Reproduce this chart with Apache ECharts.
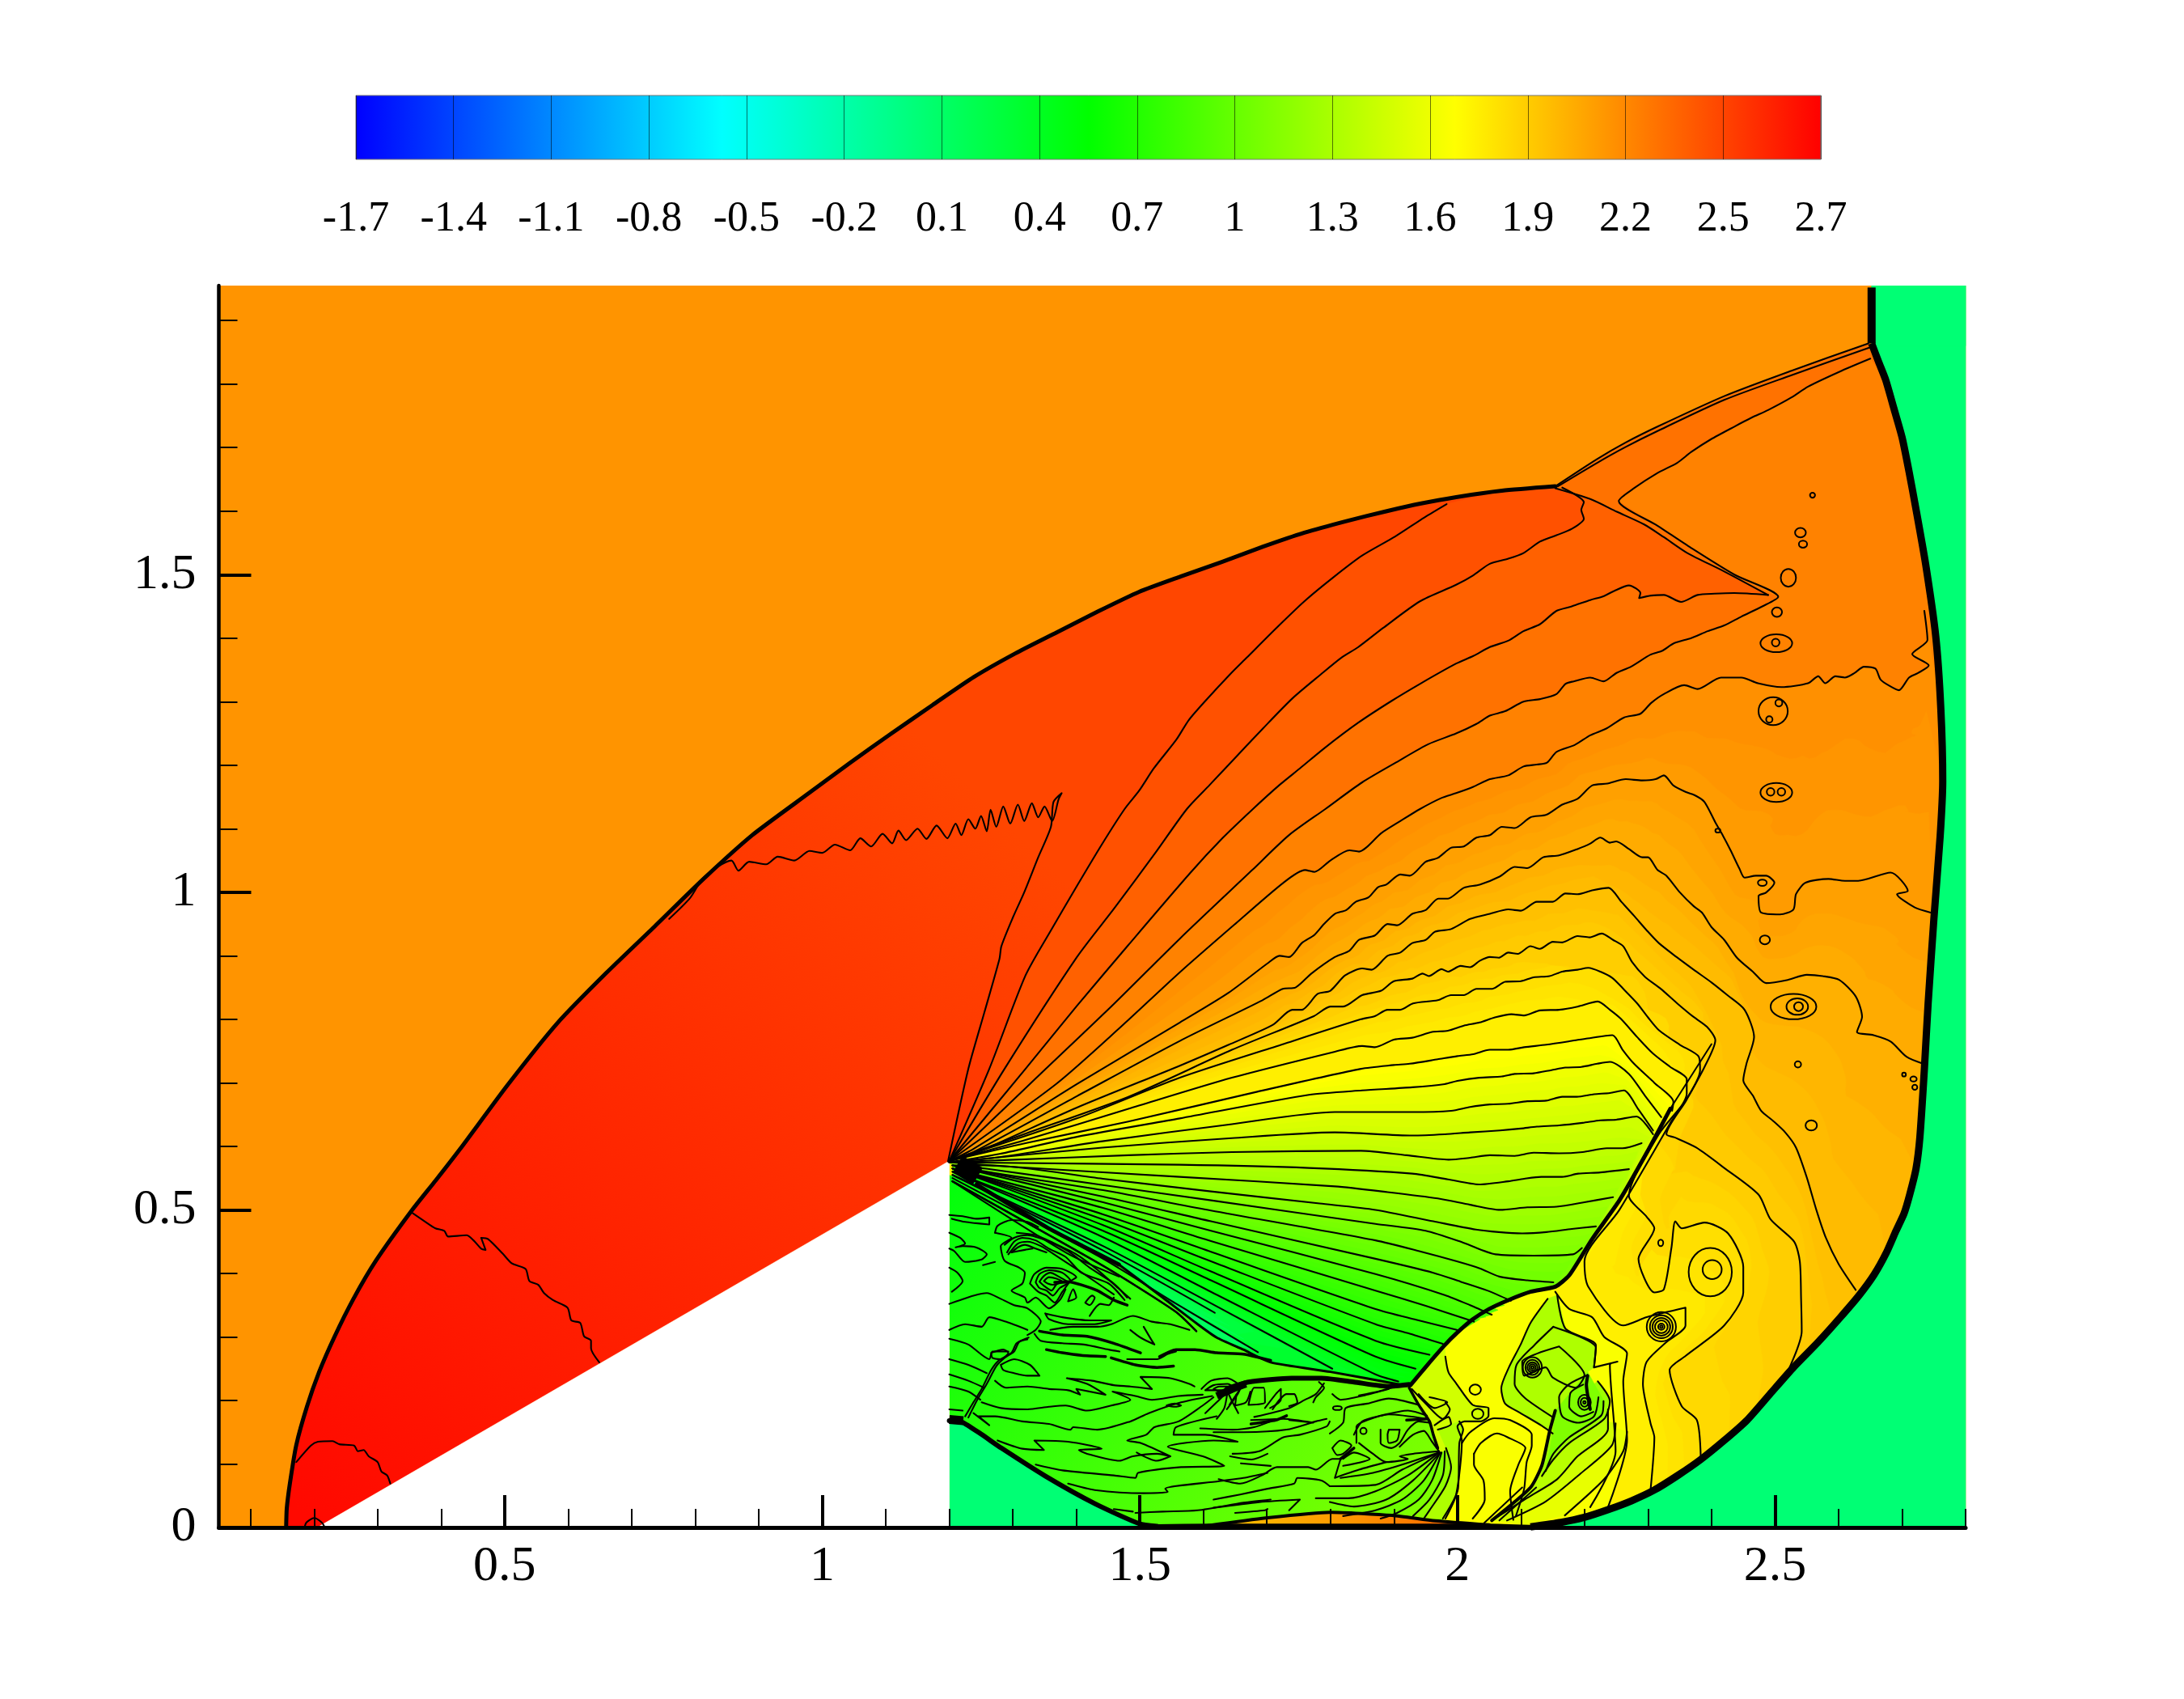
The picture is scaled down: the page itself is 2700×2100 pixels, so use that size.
<!DOCTYPE html>
<html><head><meta charset="utf-8">
<style>html,body{margin:0;background:#fff}#c{width:2700px;height:2100px}</style>
<script src="https://cdn.jsdelivr.net/npm/echarts@6/dist/echarts.min.js"></script>
</head><body><div id="c"></div>
<script>
// Colour ramp and legend
const rampStops = [[0,'#0000ff'],[0.25,'#00ffff'],[0.5,'#00ff00'],[0.75,'#ffff00'],[1,'#ff0000']];
const legendTicks = ['-1.7','-1.4','-1.1','-0.8','-0.5','-0.2','0.1','0.4','0.7','1','1.3','1.6','1.9','2.2','2.5','2.7'];
const levelRange = [-1.7, 2.7];

// Axis ticks
const xMajor = [0.5,1,1.5,2,2.5];
const xMinor = [0.1,0.2,0.3,0.4,0.6,0.7,0.8,0.9,1.1,1.2,1.3,1.4,1.6,1.7,1.8,1.9,2.1,2.2,2.3,2.4,2.6,2.7,2.8];
const yMajor = [0,0.5,1,1.5];
const yMinor = [0.1,0.2,0.3,0.4,0.6,0.7,0.8,0.9,1.1,1.2,1.3,1.4,1.6,1.7,1.8,1.9];

// Field levels of the uniform regions
const upstreamLevel = 2.06, downstreamLevel = 0.0;

// Strong shocks
const bowShock = [[0.156,0],[0.157,0.03],[0.162,0.07],[0.172,0.13],[0.189,0.191],[0.208,0.245],[0.232,0.300],[0.262,0.360],[0.298,0.421],[0.353,0.498],[0.392,0.547],[0.430,0.596],[0.505,0.697],[0.583,0.794],[0.66,0.873],[0.737,0.947],[0.812,1.020],[0.890,1.090],[0.979,1.156],[1.044,1.204],[1.109,1.250],[1.174,1.295],[1.239,1.339],[1.304,1.376],[1.369,1.409],[1.434,1.442],[1.499,1.473],[1.564,1.497],[1.629,1.520],[1.694,1.544],[1.759,1.566],[1.824,1.584],[1.889,1.600],[1.943,1.612],[1.998,1.622],[2.07,1.632],[2.154,1.639]];
const obliqueOuter = [[2.154,1.639],[2.220,1.682],[2.265,1.708],[2.315,1.733],[2.420,1.781],[2.526,1.821],[2.647,1.864]];
const obliqueInner = [[2.158,1.639],[2.220,1.676],[2.265,1.701],[2.315,1.726],[2.420,1.775],[2.526,1.814],[2.650,1.858]];
const stemTop = [[2.652,1.952],[2.652,1.864]];
const machStem = [[2.652,1.864],[2.663,1.835],[2.674,1.807],[2.687,1.762],[2.700,1.716],[2.711,1.662],[2.721,1.608],[2.737,1.517],[2.753,1.403],[2.761,1.289],[2.764,1.175],[2.760,1.089],[2.750,0.957],[2.741,0.825],[2.735,0.720],[2.728,0.614],[2.722,0.565],[2.712,0.524],[2.703,0.494],[2.690,0.466],[2.675,0.432],[2.656,0.398],[2.632,0.365],[2.603,0.331],[2.567,0.291],[2.529,0.252],[2.492,0.210],[2.456,0.169],[2.420,0.137],[2.383,0.107],[2.347,0.082],[2.310,0.059],[2.274,0.042],[2.237,0.028],[2.200,0.016],[2.163,0.008],[2.115,0.001]];
const wallFoot = [[2.115,0.001],[2.05,0.003],[1.965,0.003],[1.80,0.003],[1.607,0.003],[1.527,0.002]];
const reflectedShock = [[1.2,0.168],[1.22,0.166],[1.25,0.147],[1.282,0.125],[1.351,0.081],[1.430,0.037],[1.499,0.006],[1.527,0.002]];
const curvedShock = [[2.40,0.761],[2.335,0.659],[2.298,0.590],[2.255,0.515],[2.212,0.454],[2.176,0.397],[2.154,0.379],[2.115,0.371],[2.078,0.357],[2.050,0.344],[2.023,0.327],[2.000,0.307],[1.980,0.287],[1.952,0.255],[1.926,0.224]];
const wakeShock = [[1.641,0.220],[1.671,0.229],[1.739,0.235],[1.786,0.235],[1.837,0.229],[1.892,0.222],[1.924,0.225]];
const innerStem = [[1.924,0.220],[1.939,0.193],[1.956,0.167],[1.962,0.146],[1.969,0.125]];
const thinShockA = [[2.154,0.184],[2.145,0.151],[2.133,0.098],[2.115,0.063],[2.054,0.011]];
const thinShockB = [[2.124,0.063],[2.066,0.011]];
const thinShockC = [[2.102,0.063],[2.042,0.007]];
const upperStem = [[2.205,0.239],[2.203,0.225],[2.209,0.186]];
const crackA = [[1.225,0.175],[1.238,0.197],[1.251,0.218],[1.266,0.248],[1.278,0.263],[1.298,0.275],[1.306,0.290],[1.325,0.299]];
const crackB = [[1.230,0.173],[1.244,0.201],[1.259,0.226],[1.274,0.254],[1.287,0.267],[1.302,0.277],[1.310,0.292],[1.323,0.296]];
const lensTop = [[1.607,0.003],[1.698,0.015],[1.800,0.024],[1.897,0.019],[1.965,0.0105],[2.05,0.004]];
const cornerKnot = [[1.2,0.170],[1.222,0.168]];
const apexKnot = [[1.213,0.572],[1.245,0.553]];
const vortexKnot = [[1.621,0.207],[1.646,0.218],[1.667,0.226]];

// Slip surfaces and filaments
const slipLower = [[1.243,0.540],[1.300,0.505],[1.356,0.471],[1.410,0.443],[1.467,0.414]];
const slipMid = [[1.467,0.414],[1.536,0.362],[1.591,0.320],[1.621,0.299],[1.663,0.280],[1.706,0.260],[1.800,0.245],[1.920,0.223]];
const filaments = [
  [[1.366,0.386],[1.387,0.387],[1.408,0.382],[1.433,0.373],[1.459,0.358],[1.480,0.350]],
  [[1.342,0.309],[1.378,0.303],[1.417,0.301],[1.459,0.290],[1.501,0.275]],
  [[1.353,0.280],[1.378,0.275],[1.408,0.271],[1.446,0.269]],
  [[1.455,0.267],[1.493,0.256],[1.527,0.252],[1.553,0.254]],
  [[1.531,0.269],[1.557,0.280],[1.587,0.280],[1.621,0.275],[1.663,0.273],[1.706,0.263]],
  [[1.675,0.163],[1.714,0.169],[1.731,0.176]],
  [[1.920,0.169],[1.952,0.171]],
  [[1.816,0.108],[1.837,0.125]]
];

// Contours of the expansion fan, with their continuation behind the shocks
const fan01 = [[1.198,0.576],[1.230,0.722],[1.255,0.810],[1.279,0.895],[1.282,0.915],[1.300,0.960],[1.318,1.000],[1.340,1.055],[1.360,1.103],[1.364,1.142],[1.377,1.156],[1.372,1.146],[1.362,1.112],[1.350,1.135],[1.340,1.118],[1.330,1.140],[1.318,1.112],[1.308,1.138],[1.296,1.108],[1.285,1.135],[1.274,1.103],[1.265,1.130],[1.259,1.096],[1.250,1.120],[1.241,1.100],[1.230,1.115],[1.219,1.090],[1.210,1.108],[1.197,1.085],[1.180,1.105],[1.164,1.084],[1.150,1.100],[1.132,1.082],[1.120,1.097],[1.110,1.077],[1.095,1.092],[1.077,1.072],[1.060,1.085],[1.044,1.066],[1.020,1.075],[1.0,1.062],[0.980,1.065],[0.956,1.050],[0.930,1.056],[0.912,1.044],[0.885,1.048],[0.868,1.034],[0.857,1.050],[0.814,1.024],[0.792,0.991],[0.759,0.958]];
const fan02 = [[1.2,0.577],[1.263,0.722],[1.320,0.869],[1.360,0.940],[1.401,1.010],[1.440,1.075],[1.476,1.131],[1.499,1.160],[1.522,1.195],[1.558,1.241],[1.577,1.271],[1.603,1.301],[1.642,1.343],[1.668,1.369],[1.714,1.415],[1.759,1.458],[1.805,1.496],[1.850,1.530],[1.902,1.560],[1.948,1.590],[1.983,1.611]];
const fan03 = [[1.2,0.577],[1.287,0.722],[1.401,0.898],[1.460,0.975],[1.523,1.060],[1.574,1.131],[1.610,1.169],[1.642,1.203],[1.694,1.258],[1.740,1.305],[1.785,1.343],[1.817,1.369],[1.844,1.386],[1.883,1.416],[1.941,1.458],[1.998,1.484],[2.025,1.499],[2.051,1.517],[2.080,1.525],[2.104,1.534],[2.130,1.552],[2.156,1.562],[2.180,1.572],[2.199,1.588],[2.195,1.602],[2.199,1.614],[2.165,1.637]];
const fan04 = [[1.2,0.577],[1.320,0.722],[1.400,0.820],[1.482,0.917],[1.579,1.030],[1.630,1.085],[1.678,1.131],[1.720,1.169],[1.752,1.195],[1.792,1.228],[1.844,1.267],[1.896,1.301],[1.941,1.328],[1.998,1.360],[2.025,1.372],[2.051,1.386],[2.080,1.396],[2.104,1.411],[2.130,1.422],[2.156,1.443],[2.180,1.450],[2.209,1.460],[2.230,1.466],[2.246,1.474],[2.270,1.483],[2.288,1.471],[2.286,1.463],[2.305,1.467],[2.325,1.468],[2.352,1.457],[2.378,1.468],[2.405,1.470],[2.436,1.471],[2.489,1.468]];
const fan05 = [[1.2,0.577],[1.352,0.722],[1.460,0.825],[1.563,0.927],[1.677,1.035],[1.735,1.090],[1.792,1.131],[1.850,1.173],[1.908,1.207],[1.954,1.233],[1.998,1.250],[2.030,1.265],[2.051,1.278],[2.075,1.285],[2.104,1.300],[2.130,1.304],[2.156,1.312],[2.170,1.328],[2.183,1.332],[2.209,1.338],[2.230,1.332],[2.250,1.345],[2.273,1.355],[2.304,1.374],[2.322,1.380],[2.341,1.392],[2.368,1.400],[2.394,1.411],[2.420,1.420],[2.447,1.434],[2.480,1.450],[2.505,1.465],[2.436,1.500],[2.368,1.542],[2.315,1.577],[2.254,1.616],[2.278,1.636],[2.315,1.660],[2.346,1.676],[2.368,1.693],[2.399,1.713],[2.436,1.733],[2.463,1.747],[2.489,1.759],[2.526,1.779],[2.552,1.796],[2.605,1.821],[2.650,1.840]];
const fan06 = [[1.2,0.577],[1.368,0.698],[1.470,0.788],[1.563,0.874],[1.650,0.950],[1.726,1.015],[1.76,1.035],[1.775,1.032],[1.80,1.05],[1.83,1.066],[1.845,1.064],[1.88,1.093],[1.91,1.112],[1.941,1.131],[1.974,1.148],[1.998,1.156],[2.025,1.166],[2.051,1.178],[2.080,1.184],[2.104,1.198],[2.125,1.201],[2.141,1.204],[2.156,1.221],[2.185,1.232],[2.209,1.247],[2.235,1.258],[2.262,1.275],[2.288,1.281],[2.305,1.298],[2.325,1.312],[2.357,1.326],[2.378,1.320],[2.415,1.338],[2.447,1.338],[2.473,1.329],[2.510,1.323],[2.552,1.329],[2.568,1.340],[2.579,1.329],[2.595,1.340],[2.610,1.338],[2.625,1.345],[2.640,1.355],[2.658,1.352],[2.666,1.335],[2.680,1.325],[2.695,1.318],[2.711,1.338],[2.725,1.345],[2.742,1.357],[2.716,1.375],[2.740,1.397],[2.735,1.443]];
const fan07 = [[1.2,0.577],[1.238,0.596],[1.401,0.698],[1.563,0.795],[1.640,0.842],[1.701,0.888],[1.72,0.90],[1.735,0.898],[1.755,0.92],[1.775,0.933],[1.79,0.95],[1.807,0.966],[1.825,0.972],[1.84,0.985],[1.86,0.992],[1.875,1.008],[1.888,1.012],[1.91,1.028],[1.925,1.026],[1.95,1.048],[1.969,1.054],[1.99,1.070],[2.01,1.072],[2.03,1.086],[2.051,1.09],[2.07,1.103],[2.09,1.101],[2.115,1.118],[2.14,1.122],[2.165,1.138],[2.189,1.147],[2.212,1.168],[2.236,1.171],[2.265,1.178],[2.291,1.176],[2.312,1.178],[2.325,1.184],[2.340,1.168],[2.359,1.158],[2.375,1.152],[2.389,1.142],[2.406,1.110],[2.418,1.089],[2.430,1.066],[2.444,1.037],[2.452,1.023],[2.470,1.026],[2.486,1.026],[2.499,1.015],[2.486,0.9996],[2.474,0.994],[2.478,0.968],[2.508,0.965],[2.529,0.973],[2.533,0.997],[2.548,1.015],[2.584,1.021],[2.610,1.018],[2.631,1.018],[2.682,1.031],[2.709,1.002],[2.692,0.997],[2.720,0.976],[2.745,0.968]];
const fan08 = [[1.2,0.577],[1.238,0.591],[1.401,0.679],[1.563,0.766],[1.693,0.830],[1.725,0.848],[1.745,0.850],[1.77,0.872],[1.807,0.898],[1.83,0.908],[1.845,0.925],[1.87,0.932],[1.89,0.950],[1.905,0.948],[1.929,0.966],[1.95,0.972],[1.97,0.990],[1.985,0.990],[2.010,1.007],[2.035,1.012],[2.067,1.025],[2.09,1.040],[2.11,1.038],[2.135,1.055],[2.16,1.058],[2.189,1.068],[2.208,1.076],[2.225,1.086],[2.24,1.078],[2.25,1.08],[2.27,1.068],[2.291,1.055],[2.30,1.055],[2.315,1.035],[2.329,1.026],[2.35,1.00],[2.372,0.978],[2.385,0.968],[2.40,0.945],[2.42,0.925],[2.44,0.897],[2.465,0.875],[2.486,0.857],[2.52,0.862],[2.550,0.870],[2.575,0.868],[2.601,0.862],[2.627,0.836],[2.637,0.804],[2.629,0.780],[2.655,0.775],[2.682,0.765],[2.707,0.741],[2.733,0.730]];
const fan09 = [[1.2,0.577],[1.238,0.588],[1.401,0.661],[1.563,0.727],[1.640,0.760],[1.709,0.791],[1.74,0.815],[1.755,0.815],[1.78,0.840],[1.80,0.845],[1.823,0.869],[1.85,0.880],[1.865,0.878],[1.89,0.900],[1.91,0.905],[1.929,0.920],[1.95,0.925],[1.965,0.938],[1.99,0.942],[2.02,0.958],[2.051,0.966],[2.08,0.973],[2.10,0.971],[2.125,0.985],[2.15,0.985],[2.170,0.998],[2.189,0.997],[2.212,1.003],[2.238,1.007],[2.258,0.985],[2.278,0.963],[2.298,0.940],[2.317,0.920],[2.345,0.898],[2.372,0.878],[2.40,0.858],[2.425,0.838],[2.452,0.815],[2.467,0.772],[2.455,0.730],[2.450,0.704],[2.465,0.680],[2.478,0.656],[2.497,0.640],[2.516,0.622],[2.533,0.598],[2.550,0.551],[2.565,0.500],[2.580,0.456],[2.600,0.415],[2.627,0.374]];
const fan10 = [[1.2,0.577],[1.320,0.620],[1.482,0.678],[1.645,0.752],[1.774,0.805],[1.80,0.820],[1.82,0.820],[1.85,0.838],[1.88,0.845],[1.90,0.860],[1.929,0.864],[1.945,0.872],[1.955,0.868],[1.975,0.879],[1.985,0.875],[2.005,0.884],[2.02,0.882],[2.035,0.892],[2.051,0.898],[2.065,0.897],[2.08,0.905],[2.095,0.903],[2.115,0.915],[2.13,0.911],[2.15,0.922],[2.165,0.921],[2.189,0.931],[2.208,0.929],[2.227,0.935],[2.245,0.925],[2.261,0.915],[2.275,0.890],[2.295,0.867],[2.320,0.848],[2.346,0.825],[2.370,0.805],[2.393,0.788],[2.406,0.767],[2.389,0.725],[2.360,0.672],[2.329,0.619],[2.342,0.614],[2.376,0.598],[2.420,0.566],[2.474,0.524],[2.493,0.485],[2.530,0.450],[2.539,0.419],[2.541,0.360],[2.542,0.309],[2.517,0.239]];
const fan11 = [[1.2,0.577],[1.401,0.644],[1.563,0.708],[1.726,0.761],[1.848,0.800],[1.87,0.805],[1.89,0.815],[1.91,0.815],[1.93,0.825],[1.969,0.830],[1.99,0.838],[2.01,0.838],[2.03,0.848],[2.055,0.848],[2.075,0.859],[2.10,0.860],[2.12,0.866],[2.145,0.868],[2.165,0.875],[2.189,0.878],[2.206,0.881],[2.225,0.875],[2.244,0.865],[2.262,0.847],[2.283,0.825],[2.300,0.803],[2.317,0.783],[2.350,0.760],[2.380,0.741],[2.382,0.720],[2.359,0.672],[2.317,0.619],[2.270,0.522],[2.298,0.489],[2.310,0.471],[2.285,0.423],[2.310,0.370],[2.325,0.375],[2.337,0.441],[2.343,0.482],[2.353,0.471],[2.389,0.480],[2.426,0.463],[2.450,0.410],[2.450,0.370],[2.420,0.318],[2.359,0.270],[2.334,0.248],[2.353,0.191],[2.377,0.169],[2.383,0.112]];
const fan12 = [[1.2,0.577],[1.320,0.610],[1.482,0.659],[1.645,0.708],[1.807,0.749],[1.85,0.758],[1.87,0.756],[1.90,0.768],[1.929,0.771],[1.96,0.780],[1.985,0.782],[2.01,0.790],[2.035,0.795],[2.059,0.803],[2.085,0.808],[2.105,0.806],[2.13,0.814],[2.16,0.815],[2.189,0.820],[2.221,0.828],[2.240,0.815],[2.257,0.801],[2.283,0.772],[2.308,0.746],[2.335,0.725],[2.361,0.706],[2.361,0.683],[2.334,0.635],[2.255,0.500],[2.200,0.419],[2.206,0.379],[2.261,0.318],[2.298,0.331],[2.359,0.346],[2.359,0.318],[2.328,0.291],[2.298,0.261],[2.292,0.226],[2.304,0.164],[2.310,0.142],[2.304,0.059]];
const fan13 = [[1.2,0.577],[1.320,0.605],[1.482,0.639],[1.685,0.686],[1.848,0.722],[1.90,0.728],[1.925,0.730],[1.969,0.737],[2.0,0.742],[2.025,0.745],[2.051,0.752],[2.08,0.752],[2.105,0.756],[2.14,0.760],[2.180,0.766],[2.205,0.770],[2.244,0.775],[2.260,0.752],[2.278,0.730],[2.310,0.700],[2.340,0.670],[2.338,0.656]];
const fan14 = [[1.2,0.575],[1.279,0.588],[1.401,0.615],[1.563,0.644],[1.766,0.681],[1.85,0.688],[1.929,0.693],[1.98,0.698],[2.0,0.703],[2.034,0.708],[2.07,0.710],[2.09,0.714],[2.12,0.715],[2.148,0.720],[2.17,0.724],[2.195,0.725],[2.220,0.730],[2.240,0.733],[2.270,0.714],[2.295,0.680],[2.321,0.646]];
const fan15 = [[1.2,0.575],[1.279,0.583],[1.441,0.608],[1.645,0.635],[1.807,0.654],[1.929,0.654],[1.99,0.656],[2.02,0.662],[2.051,0.666],[2.08,0.667],[2.11,0.671],[2.14,0.672],[2.165,0.678],[2.188,0.678],[2.215,0.682],[2.240,0.684],[2.262,0.688],[2.285,0.658],[2.308,0.625]];
const fan16 = [[1.2,0.575],[1.441,0.598],[1.645,0.613],[1.807,0.622],[1.929,0.617],[1.98,0.619],[2.02,0.622],[2.067,0.625],[2.10,0.628],[2.125,0.631],[2.16,0.633],[2.197,0.637],[2.225,0.641],[2.250,0.642],[2.282,0.647],[2.308,0.619]];
const fan17 = [[1.2,0.575],[1.279,0.578],[1.482,0.586],[1.645,0.591],[1.848,0.593],[1.92,0.586],[1.986,0.579],[2.02,0.582],[2.051,0.586],[2.09,0.585],[2.12,0.590],[2.16,0.589],[2.197,0.591],[2.235,0.597],[2.260,0.597],[2.290,0.605]];
const fan18 = [[1.2,0.575],[1.279,0.574],[1.563,0.571],[1.766,0.566],[1.929,0.557],[1.985,0.548],[2.034,0.540],[2.08,0.545],[2.105,0.549],[2.132,0.552],[2.165,0.552],[2.190,0.557],[2.225,0.559],[2.270,0.564]];
const fan19 = [[1.2,0.575],[1.279,0.569],[1.563,0.552],[1.807,0.537],[1.890,0.528],[1.969,0.518],[2.020,0.508],[2.067,0.500],[2.110,0.504],[2.156,0.505],[2.200,0.512],[2.245,0.520]];
const fan20 = [[1.205,0.570],[1.265,0.570],[1.442,0.549],[1.612,0.529],[1.783,0.510],[1.871,0.500],[1.962,0.482],[2.029,0.469],[2.065,0.465],[2.102,0.463],[2.140,0.465],[2.180,0.470],[2.218,0.474]];
const fan21 = [[1.205,0.570],[1.265,0.564],[1.442,0.539],[1.612,0.515],[1.871,0.478],[1.950,0.467],[2.010,0.448],[2.060,0.430],[2.120,0.428],[2.182,0.430],[2.196,0.440]];
const fan22 = [[1.205,0.570],[1.265,0.559],[1.442,0.531],[1.612,0.499],[1.871,0.452],[1.940,0.435],[1.999,0.419],[2.035,0.408],[2.066,0.395],[2.110,0.389],[2.151,0.386]];
const fan23 = [[1.205,0.570],[1.442,0.521],[1.612,0.482],[1.871,0.423],[1.962,0.401],[2.005,0.387],[2.047,0.373],[2.084,0.357]];
const fan24 = [[1.205,0.570],[1.442,0.512],[1.612,0.467],[1.871,0.399],[1.980,0.366],[2.020,0.350],[2.054,0.335]];
const fan25 = [[1.205,0.565],[1.442,0.503],[1.612,0.451],[1.871,0.373],[1.950,0.349],[2.026,0.324]];
const fan26 = [[1.205,0.565],[1.442,0.493],[1.612,0.434],[1.871,0.344],[1.935,0.327],[1.999,0.311]];
const fan27 = [[1.205,0.565],[1.442,0.485],[1.612,0.419],[1.871,0.320],[1.925,0.305],[1.977,0.289]];
const fan28 = [[1.205,0.565],[1.442,0.476],[1.612,0.403],[1.871,0.294],[1.956,0.272]];
const fan29 = [[1.205,0.560],[1.442,0.467],[1.612,0.389],[1.871,0.269],[1.934,0.250]];
const fan30 = [[1.205,0.560],[1.442,0.457],[1.612,0.371],[1.871,0.241],[1.907,0.230]];
const fan31 = [[1.205,0.555],[1.442,0.443],[1.612,0.353],[1.803,0.250]];
const fan32 = [[1.205,0.555],[1.442,0.436],[1.618,0.338]];
const fan33 = [[1.205,0.550],[1.442,0.423],[1.556,0.353],[1.686,0.276]];
const fan34 = [[1.205,0.545],[1.442,0.412],[1.556,0.340],[1.589,0.309]];
const fan35 = [[1.205,0.545],[1.385,0.432],[1.467,0.395]];
const fanLevels = [2.35,2.28,2.21,2.14,2.08,2.01,1.94,1.87,1.81,1.74,1.67,1.60,1.53,1.46,1.39,1.32,1.25,1.18,1.11,1.04,0.97,0.90,0.83,0.76,0.69,0.62,0.55,0.48,0.41,0.30,0.20,0.10,0.00,-0.05];

// Contours ahead of the wedge and in the post-shock pocket
const noseArc = [[0.185,0],[0.188,0.008],[0.2,0.015],[0.212,0.008],[0.217,0]];
const noseContour = [[0.172,0.103],[0.195,0.129],[0.206,0.135],[0.229,0.136],[0.240,0.131],[0.263,0.129],[0.269,0.120],[0.278,0.122],[0.286,0.112],[0.300,0.103],[0.306,0.088],[0.315,0.082],[0.320,0.069]];
const shoulderContour = [[0.355,0.495],[0.374,0.482],[0.391,0.471],[0.405,0.467],[0.411,0.458],[0.440,0.460],[0.451,0.452],[0.463,0.439],[0.470,0.437],[0.463,0.456],[0.474,0.454],[0.497,0.431],[0.511,0.416],[0.533,0.407],[0.539,0.388],[0.553,0.382],[0.562,0.369],[0.576,0.358],[0.599,0.346],[0.605,0.326],[0.619,0.322],[0.625,0.301],[0.636,0.294],[0.636,0.282],[0.649,0.260]];
const oblique2 = [[2.154,1.636],[2.209,1.619],[2.251,1.599],[2.294,1.579],[2.325,1.559],[2.362,1.534],[2.420,1.505],[2.489,1.468]];

// Contours past the curved shock, above the floor
const pocketA = [[2.154,0.371],[2.176,0.344],[2.212,0.331],[2.231,0.300],[2.267,0.274],[2.261,0.230],[2.267,0.138],[2.237,0.032]];
const pocketB = [[2.157,0.366],[2.170,0.313],[2.218,0.287],[2.215,0.252],[2.252,0.261],[2.240,0.256],[2.249,0.120],[2.209,0.032]];
const pocketC = [[2.142,0.360],[2.115,0.322],[2.099,0.287],[2.081,0.252],[2.069,0.219],[2.075,0.195],[2.096,0.182],[2.133,0.160],[2.150,0.148]];
const pocketD = [[2.151,0.316],[2.121,0.287],[2.093,0.256],[2.090,0.226],[2.106,0.204],[2.151,0.173]];
const pocketE = [[2.151,0.316],[2.218,0.283],[2.215,0.252]];
const pocketF = [[2.160,0.285],[2.126,0.274],[2.102,0.261],[2.105,0.239],[2.139,0.252],[2.150,0.236],[2.186,0.220],[2.200,0.240],[2.160,0.285]];
const ridgeA = [[2.221,0.230],[2.240,0.199],[2.231,0.171],[2.176,0.133],[2.151,0.107],[2.133,0.081]];
const ridgeB = [[2.237,0.186],[2.237,0.155],[2.188,0.111],[2.157,0.076],[2.109,0.046],[2.054,0.011]];
const ridgeC = [[2.249,0.164],[2.243,0.129],[2.194,0.085],[2.139,0.041],[2.078,0.011]];
const ridgeD = [[2.267,0.151],[2.261,0.120],[2.231,0.076],[2.169,0.019]];
const ridgeE = [[2.23,0.199],[2.227,0.177],[2.176,0.142],[2.151,0.116],[2.139,0.089]];
const knotA = [[2.205,0.240],[2.175,0.225],[2.160,0.205],[2.165,0.175],[2.190,0.165],[2.215,0.175],[2.222,0.205]];
const knotB = [[2.198,0.225],[2.178,0.212],[2.176,0.190],[2.195,0.175],[2.214,0.182]];
const coreA = [[2.026,0.116],[2.037,0.133],[2.062,0.148],[2.079,0.142],[2.107,0.125],[2.096,0.099],[2.083,0.057],[2.088,0.012]];
const coreB = [[2.026,0.116],[2.026,0.099],[2.041,0.074],[2.043,0.044],[2.024,0.014]];
const coreC = [[2.007,0.133],[2.020,0.150],[2.058,0.172],[2.083,0.169],[2.117,0.146],[2.117,0.129],[2.109,0.103],[2.105,0.061],[2.092,0.018]];
const coreE = [[1.981,0.269],[1.986,0.244],[1.998,0.227],[2.024,0.193],[2.049,0.188],[2.049,0.176],[2.037,0.167],[2.011,0.167],[2.0,0.159],[2.007,0.137],[1.998,0.052],[1.981,0.014]];

// Wake contours, near the corner
const wakeCorner = [
  [[1.200,0.492],[1.221,0.490],[1.242,0.486],[1.263,0.488],[1.263,0.477],[1.242,0.479],[1.225,0.481],[1.204,0.486]],
  [[1.272,0.464],[1.276,0.475],[1.298,0.484],[1.323,0.481],[1.340,0.473]],
  [[1.272,0.464],[1.298,0.456],[1.281,0.443],[1.287,0.420],[1.310,0.409],[1.319,0.401],[1.315,0.384],[1.298,0.373],[1.319,0.362],[1.323,0.354],[1.336,0.362],[1.357,0.345],[1.374,0.358],[1.383,0.375]],
  [[1.200,0.464],[1.217,0.456],[1.225,0.447],[1.210,0.441],[1.221,0.443],[1.242,0.441],[1.259,0.430],[1.251,0.422],[1.225,0.418],[1.208,0.435],[1.200,0.439]],
  [[1.200,0.409],[1.213,0.401],[1.221,0.388],[1.204,0.371]],
  [[1.200,0.352],[1.217,0.358],[1.238,0.365],[1.259,0.369],[1.281,0.360],[1.302,0.350],[1.323,0.345],[1.344,0.324],[1.336,0.311],[1.323,0.303]],
  [[1.200,0.311],[1.225,0.320],[1.251,0.316],[1.263,0.331],[1.289,0.324],[1.323,0.311]],
  [[1.200,0.297],[1.230,0.288],[1.263,0.265],[1.268,0.277],[1.293,0.277]],
  [[1.200,0.265],[1.230,0.256],[1.259,0.243]],
  [[1.200,0.241],[1.230,0.231],[1.255,0.220]],
  [[1.200,0.222],[1.230,0.214],[1.249,0.201]],
  [[1.200,0.186],[1.221,0.184]],
  [[1.253,0.413],[1.272,0.418]],
  [[1.281,0.256],[1.302,0.265],[1.327,0.256],[1.342,0.239],[1.323,0.239],[1.302,0.243],[1.285,0.248],[1.281,0.256]],
  [[1.266,0.275],[1.285,0.280],[1.293,0.275],[1.281,0.265],[1.268,0.267],[1.266,0.275]]
];
// Wake contours, around the two rolled-up vortices
const wakeVortices = [
  [[1.291,0.433],[1.302,0.450],[1.315,0.456],[1.336,0.452],[1.357,0.439],[1.383,0.426],[1.408,0.401],[1.451,0.384],[1.476,0.358]],
  [[1.293,0.430],[1.308,0.447],[1.323,0.450],[1.344,0.443],[1.374,0.424],[1.412,0.399],[1.459,0.367]],
  [[1.298,0.433],[1.308,0.441],[1.319,0.445],[1.336,0.439],[1.353,0.433]],
  [[1.298,0.433],[1.319,0.437],[1.331,0.439]],
  [[1.287,0.445],[1.302,0.456],[1.323,0.460],[1.357,0.450],[1.387,0.435],[1.421,0.409],[1.459,0.384],[1.480,0.362]],
  [[1.306,0.464],[1.336,0.460],[1.366,0.447],[1.400,0.430],[1.434,0.405],[1.468,0.375],[1.485,0.360]],
  [[1.327,0.384],[1.334,0.399],[1.353,0.409],[1.378,0.407],[1.400,0.394],[1.391,0.388],[1.378,0.371],[1.366,0.354],[1.353,0.365],[1.340,0.371],[1.327,0.384]],
  [[1.336,0.386],[1.342,0.399],[1.357,0.405],[1.378,0.401],[1.391,0.388],[1.374,0.377],[1.363,0.365],[1.353,0.373],[1.342,0.377],[1.336,0.386]],
  [[1.342,0.387],[1.349,0.396],[1.359,0.401],[1.374,0.394],[1.387,0.386],[1.370,0.384],[1.361,0.373],[1.351,0.379],[1.342,0.387]],
  [[1.349,0.388],[1.357,0.394],[1.368,0.392],[1.378,0.387],[1.363,0.382],[1.355,0.384],[1.349,0.388]],
  [[1.387,0.356],[1.395,0.375],[1.400,0.362],[1.387,0.356]],
  [[1.414,0.354],[1.425,0.365],[1.429,0.362],[1.421,0.350],[1.414,0.354]],
  [[1.421,0.333],[1.438,0.352],[1.451,0.350],[1.459,0.362]]
];
// Wake contours, long stripes down the channel
const wakeStripes = [
  [[1.351,0.337],[1.378,0.331],[1.421,0.326],[1.455,0.326],[1.429,0.320],[1.387,0.320],[1.357,0.328],[1.351,0.337]],
  [[1.359,0.311],[1.395,0.316],[1.433,0.316],[1.455,0.320],[1.489,0.333],[1.519,0.324],[1.548,0.320],[1.578,0.311]],
  [[1.334,0.305],[1.344,0.294],[1.378,0.290],[1.412,0.288],[1.451,0.280],[1.468,0.277]],
  [[1.506,0.316],[1.519,0.294],[1.523,0.288],[1.501,0.299],[1.485,0.311]],
  [[1.480,0.265],[1.527,0.265],[1.544,0.273],[1.557,0.277]],
  [[1.272,0.231],[1.289,0.220],[1.323,0.222],[1.357,0.218],[1.387,0.216],[1.406,0.209],[1.400,0.218],[1.446,0.209],[1.417,0.226],[1.385,0.235],[1.425,0.231],[1.459,0.224],[1.485,0.222],[1.519,0.218],[1.501,0.237],[1.548,0.235],[1.578,0.226],[1.586,0.222]],
  [[1.251,0.197],[1.281,0.188],[1.323,0.186],[1.357,0.190],[1.383,0.192],[1.417,0.184],[1.455,0.192],[1.485,0.201],[1.457,0.214],[1.493,0.207],[1.519,0.201],[1.561,0.207],[1.599,0.209]],
  [[1.238,0.180],[1.263,0.161],[1.246,0.175],[1.272,0.175],[1.315,0.167],[1.357,0.163],[1.391,0.154],[1.395,0.158],[1.433,0.154],[1.485,0.167],[1.514,0.180],[1.565,0.197],[1.614,0.207]],
  [[1.276,0.137],[1.315,0.124],[1.349,0.122],[1.334,0.137],[1.387,0.135],[1.440,0.124],[1.404,0.122],[1.417,0.116],[1.468,0.105],[1.489,0.112],[1.527,0.116],[1.548,0.112],[1.501,0.133],[1.480,0.137],[1.510,0.146],[1.523,0.158],[1.561,0.167],[1.599,0.192],[1.616,0.205]],
  [[1.336,0.099],[1.378,0.090],[1.459,0.082],[1.493,0.078],[1.497,0.086],[1.565,0.095],[1.633,0.097],[1.599,0.112],[1.544,0.127],[1.616,0.137],[1.654,0.135],[1.603,0.146],[1.553,0.146],[1.557,0.158],[1.621,0.175]],
  [[1.387,0.069],[1.429,0.059],[1.506,0.054],[1.544,0.056],[1.540,0.061],[1.625,0.073],[1.663,0.078],[1.701,0.086]],
  [[1.459,0.029],[1.489,0.025]],
  [[1.493,0.023],[1.536,0.025],[1.591,0.027],[1.663,0.039],[1.706,0.044]],
  [[1.595,0.156],[1.646,0.154],[1.680,0.158],[1.706,0.167]],
  [[1.642,0.112],[1.676,0.107],[1.701,0.116]],
  [[1.659,0.101],[1.706,0.097]],
  [[1.542,0.192],[1.555,0.195],[1.565,0.192],[1.555,0.190],[1.542,0.192]],
  [[1.495,0.118],[1.527,0.105],[1.548,0.112]],
  [[1.597,0.218],[1.612,0.231],[1.638,0.235],[1.655,0.226]],
  [[1.603,0.216],[1.616,0.224],[1.638,0.226],[1.646,0.222],[1.629,0.216],[1.603,0.216]],
  [[1.616,0.218],[1.625,0.222],[1.638,0.222],[1.627,0.214],[1.616,0.218]],
  [[1.638,0.214],[1.621,0.197],[1.603,0.180]],
  [[1.638,0.214],[1.633,0.188],[1.621,0.171]],
  [[1.638,0.214],[1.646,0.197],[1.655,0.180]]
];
// Wake contours, behind the triple point
const wakeRear = [
  [[1.652,0.209],[1.650,0.192],[1.667,0.197],[1.674,0.214]],
  [[1.671,0.193],[1.680,0.220],[1.695,0.220],[1.697,0.197],[1.671,0.193]],
  [[1.637,0.186],[1.654,0.210],[1.658,0.218],[1.641,0.193]],
  [[1.697,0.188],[1.714,0.210],[1.722,0.218],[1.722,0.201],[1.705,0.188]],
  [[1.709,0.186],[1.731,0.210],[1.743,0.210],[1.748,0.197],[1.735,0.191]],
  [[1.680,0.174],[1.735,0.188],[1.760,0.201],[1.777,0.210],[1.790,0.227]],
  [[1.675,0.169],[1.726,0.171],[1.773,0.165],[1.735,0.169]],
  [[1.616,0.150],[1.663,0.150],[1.731,0.154],[1.777,0.167],[1.794,0.171]],
  [[1.646,0.116],[1.688,0.120],[1.726,0.142],[1.752,0.146],[1.794,0.159],[1.799,0.167]],
  [[1.624,0.076],[1.658,0.069],[1.692,0.082],[1.716,0.095],[1.765,0.095],[1.777,0.091],[1.803,0.108],[1.816,0.108]],
  [[1.616,0.044],[1.658,0.052],[1.701,0.061],[1.743,0.069],[1.748,0.078],[1.786,0.074],[1.799,0.065]],
  [[1.616,0.031],[1.688,0.040],[1.752,0.044],[1.735,0.027]],
  [[1.650,0.023],[1.697,0.027],[1.701,0.029]],
  [[1.803,0.210],[1.816,0.201],[1.854,0.208],[1.892,0.218]],
  [[1.782,0.229],[1.790,0.220],[1.777,0.205],[1.773,0.197]],
  [[1.845,0.208],[1.875,0.214],[1.896,0.220]],
  [[1.799,0.148],[1.820,0.165],[1.824,0.188],[1.858,0.195],[1.892,0.203],[1.939,0.193]],
  [[1.837,0.146],[1.850,0.167],[1.879,0.176],[1.922,0.184],[1.952,0.176]],
  [[1.841,0.133],[1.841,0.159],[1.858,0.169],[1.892,0.178],[1.952,0.171]],
  [[1.892,0.154],[1.909,0.154],[1.905,0.137],[1.892,0.133],[1.890,0.146],[1.892,0.154]],
  [[1.879,0.154],[1.879,0.133],[1.896,0.125],[1.909,0.133],[1.922,0.154],[1.939,0.167],[1.956,0.165]],
  [[1.909,0.127],[1.930,0.146],[1.947,0.152],[1.960,0.135],[1.971,0.120]],
  [[1.803,0.125],[1.816,0.137],[1.833,0.129],[1.820,0.116],[1.811,0.114],[1.803,0.125]],
  [[1.816,0.108],[1.807,0.078],[1.845,0.091],[1.888,0.103]],
  [[1.820,0.097],[1.862,0.108],[1.837,0.118],[1.820,0.108]],
  [[1.928,0.218],[1.952,0.193],[1.977,0.171],[1.988,0.186],[1.981,0.197]],
  [[1.939,0.210],[1.964,0.188],[1.984,0.197],[1.956,0.205]],
  [[1.964,0.161],[1.986,0.174],[1.990,0.163],[1.969,0.154]]
];
// Contour burst at the foot of the inner stem
const burstInner = [
  [[1.971,0.120],[1.930,0.116],[1.909,0.112],[1.922,0.108],[1.888,0.103],[1.867,0.116],[1.845,0.133]],
  [[1.971,0.118],[1.913,0.099],[1.867,0.086],[1.816,0.078]],
  [[1.971,0.118],[1.913,0.091],[1.871,0.067],[1.799,0.065]],
  [[1.971,0.118],[1.922,0.082],[1.871,0.057],[1.828,0.046],[1.777,0.046]],
  [[1.973,0.118],[1.930,0.074],[1.888,0.044],[1.837,0.033],[1.799,0.040]]
];
const burstD = [[1.973,0.118],[1.947,0.074],[1.913,0.044],[1.871,0.027],[1.820,0.018]];
const burstC = [[1.975,0.118],[1.960,0.074],[1.939,0.044],[1.905,0.023],[1.879,0.014]];
const burstB = [[1.980,0.120],[1.977,0.082],[1.956,0.044],[1.930,0.018]];
const burstA = [[1.982,0.125],[1.990,0.095],[1.981,0.065],[1.956,0.027],[1.947,0.014]];
const burstOuter = [[2.003,0.167],[2.009,0.154],[2.003,0.133],[2.001,0.061],[1.977,0.014]];

// Closed islands: centre x, centre y, half-width, half-height
const islands = [
  [2.559,1.625,0.004,0.004],[2.540,1.566,0.0085,0.0074],[2.544,1.548,0.0065,0.0055],[2.521,1.495,0.012,0.014],
  [2.503,1.441,0.008,0.0075],[2.502,1.392,0.025,0.014],[2.501,1.393,0.006,0.006],[2.497,1.285,0.023,0.022],
  [2.506,1.298,0.0055,0.0055],[2.491,1.272,0.005,0.005],[2.502,1.157,0.025,0.015],[2.493,1.158,0.006,0.006],
  [2.510,1.158,0.006,0.006],[2.410,1.097,0.004,0.003],[2.480,1.015,0.007,0.005],[2.484,0.925,0.008,0.007],
  [2.529,0.820,0.036,0.020],[2.535,0.820,0.017,0.013],[2.537,0.820,0.007,0.007],[2.536,0.729,0.005,0.005],
  [2.557,0.633,0.009,0.008],[2.718,0.706,0.005,0.004],[2.703,0.713,0.003,0.003],[2.720,0.693,0.004,0.004],
  [2.320,0.448,0.004,0.005],[2.028,0.217,0.009,0.008],[2.032,0.179,0.009,0.008],
  [2.401,0.406,0.015,0.015],[2.398,0.402,0.034,0.038],
  [2.321,0.316,0.023,0.023],[2.321,0.316,0.018,0.018],[2.321,0.316,0.014,0.014],[2.321,0.316,0.010,0.010],[2.321,0.316,0.005,0.005],[2.321,0.316,0.002,0.002],
  [2.118,0.252,0.015,0.016],[2.118,0.252,0.011,0.012],[2.118,0.252,0.008,0.008],[2.118,0.252,0.005,0.005],[2.118,0.252,0.002,0.002],
  [2.200,0.197,0.010,0.012],[2.200,0.197,0.006,0.007],[2.200,0.197,0.002,0.002],
  [1.852,0.152,0.005,0.005],[1.811,0.188,0.007,0.003]
];

// Regions filled flat or with a ramp, given by level
const wedge = [[0.205,0],[1.2,0.577],[1.2,0]];
const redLevels = [2.66,2.40];
const wakeLevels = [0.45,1.05];
const lensLevels = [1.85,2.05,2.32];
const innerPocketLevels = [1.58,1.40,1.25,1.05];
const ridgeLevels = [1.50,1.40,1.30,1.18];
const burstLevels = [1.25,1.12,1.04,0.97];

const frame = {xMin:0.05,xMax:2.8,yMin:0,yMax:1.955};

function levelColor(v){
  const f = Math.max(0,Math.min(1,(v-levelRange[0])/(levelRange[1]-levelRange[0])));
  for(let i=1;i<rampStops.length;i++){
    if(f<=rampStops[i][0]){
      const a=rampStops[i-1],b=rampStops[i],t=(f-a[0])/(b[0]-a[0]);
      const c=k=>Math.round(parseInt(a[1].substr(k,2),16)*(1-t)+parseInt(b[1].substr(k,2),16)*t);
      return `rgb(${c(1)},${c(3)},${c(5)})`;
    }
  }
  return rampStops[4][1];
}
// Walk along a boundary from the vertex nearest a contour's end
function tailFrom(wall,end){
  let best=0,d=1e9;
  wall.forEach((p,i)=>{const q=(p[0]-end[0])**2+(p[1]-end[1])**2;if(q<d){d=q;best=i;}});
  return wall.slice(best+1);
}
// Shade between two neighbouring contours: walk both at the same arc fraction
function walk(line,n){
  const s=[0];
  for(let i=1;i<line.length;i++) s.push(s[i-1]+Math.hypot(line[i][0]-line[i-1][0],line[i][1]-line[i-1][1]));
  const out=[];let j=0;
  for(let k=0;k<=n;k++){
    const d=s[s.length-1]*k/n;
    while(j<s.length-2&&s[j+1]<d) j++;
    const t=(d-s[j])/Math.max(1e-9,s[j+1]-s[j]);
    out.push([line[j][0]+(line[j+1][0]-line[j][0])*t,line[j][1]+(line[j+1][1]-line[j][1])*t]);
  }
  return out;
}
function between(a,b,t){
  const p=walk(a,160),q=walk(b,160);
  return p.map((v,i)=>[v[0]+(q[i][0]-v[0])*t,v[1]+(q[i][1]-v[1])*t]);
}
const outerWall = [[1.998,1.622],[2.07,1.632],[2.154,1.639]].concat(obliqueOuter.slice(1),machStem.slice(1),wallFoot.slice(1),reflectedShock.slice().reverse().slice(1));
const slipFloor = curvedShock.concat([[1.800,0.245],[1.706,0.260],[1.621,0.299],[1.536,0.362],[1.467,0.414],[1.356,0.471],[1.243,0.540]]);
const fanLines = [fan02,fan03,fan04,fan05,fan06,fan07,fan08,fan09,fan10,fan11,fan12,fan13,fan14,fan15,fan16,fan17,fan18,fan19,fan20,fan21,fan22,fan23,fan24,fan25,fan26,fan27,fan28,fan29,fan30,fan31,fan32,fan33,fan34,fan35];

const fills = [];
fills.push({pts:[[frame.xMin,0],[frame.xMax,0],[frame.xMax,frame.yMax],[frame.xMin,frame.yMax]],level:upstreamLevel});
fills.push({pts:stemTop.concat(machStem.slice(1),[[frame.xMax,0],[frame.xMax,frame.yMax]]),level:downstreamLevel});
fills.push({pts:[[frame.xMax,frame.yMax],[2.652,frame.yMax],[2.652,1.86],[frame.xMax,1.86]],level:downstreamLevel});
fills.push({pts:[[1.2,0]].concat(reflectedShock),level:downstreamLevel});
fills.push({pts:bowShock.concat(obliqueOuter.slice(1),machStem.slice(1),wallFoot.slice(1),reflectedShock.slice().reverse().slice(1),[[1.2,0.577],[0.205,0]]),ramp:{from:[0.2,0.0],to:[1.3,1.1],levels:redLevels}});
const subSteps = 3;
fanLines.forEach((line,i)=>{
  if(i<=10){
    let path=line;
    if(line===fan04) path=line.concat(oblique2.slice().reverse());
    fills.push({pts:path.concat(tailFrom(outerWall,path[path.length-1])),level:fanLevels[i]});
    if(i>=4&&i<10){
      for(let k=1;k<subSteps;k++){
        const t=k/subSteps, mid=between(line,fanLines[i+1],t);
        fills.push({pts:mid.concat(tailFrom(outerWall,mid[mid.length-1])),level:fanLevels[i]+(fanLevels[i+1]-fanLevels[i])*t});
      }
    }
  }
});
// Bands behind the curved shock
fills.push({pts:pocketA.concat([[2.237,0.028],[2.200,0.016],[2.163,0.008],[2.115,0.001],[1.95,0]],curvedShock.slice().reverse().slice(0,9)),level:innerPocketLevels[0]});
fills.push({pts:coreE.concat([[1.98,0],[1.9,0],[1.92,0.223],[1.98,0.287]]),level:innerPocketLevels[1]});
fills.push({pts:ridgeD.concat([[2.105,0.004],[2.054,0.011]],thinShockA.slice().reverse()),level:ridgeLevels[0]});
fills.push({pts:ridgeC.concat(thinShockA.slice().reverse()),level:ridgeLevels[1]});
fills.push({pts:ridgeB.concat(thinShockA.slice().reverse()),level:ridgeLevels[2]});
fills.push({pts:ridgeA.concat(thinShockA.slice(0,3).reverse()),level:ridgeLevels[3]});
fills.push({pts:pocketC.concat([[2.154,0.184],[2.205,0.245],[2.215,0.252],[2.218,0.287],[2.170,0.313],[2.157,0.366]]),level:innerPocketLevels[2]});
fills.push({pts:[[2.205,0.245],[2.23,0.2],[2.227,0.177],[2.176,0.142],[2.151,0.116],[2.139,0.089],[2.150,0.148],[2.154,0.184]],level:innerPocketLevels[3]});
fanLines.forEach((line,i)=>{
  if(i>10){
    fills.push({pts:line.concat(tailFrom(slipFloor,line[line.length-1])),level:fanLevels[i]});
    if(i<32){
      for(let k=1;k<subSteps;k++){
        const t=k/subSteps, mid=between(line,fanLines[i+1],t);
        fills.push({pts:mid.concat(tailFrom(slipFloor,mid[mid.length-1])),level:fanLevels[i]+(fanLevels[i+1]-fanLevels[i])*t});
      }
    }
  }
});
fills.push({pts:[[1.2,0.555],[1.243,0.540],[1.356,0.471],[1.467,0.414],[1.536,0.362],[1.621,0.299],[1.706,0.260],[1.800,0.245],[1.924,0.220],[1.939,0.193],[1.956,0.167],[1.962,0.146],[1.969,0.125],[1.977,0.014],[1.977,0.002],[1.527,0.002]].concat(reflectedShock.slice().reverse().slice(1)),ramp:{from:[1.2,0.57],to:[1.95,0.05],levels:wakeLevels}});
fills.push({pts:burstA.concat([[1.977,0.014],[2.001,0.061],[2.003,0.133],[2.009,0.154],[2.003,0.167],[1.969,0.155]]),level:burstLevels[0]});
fills.push({pts:burstA.concat(burstB.slice().reverse()),level:burstLevels[1]});
fills.push({pts:burstB.concat(burstC.slice().reverse()),level:burstLevels[2]});
fills.push({pts:burstC.concat(burstD.slice().reverse()),level:burstLevels[3]});
fills.push({pts:lensTop.concat([[2.05,0],[1.607,0]]),ramp:{from:[1.607,0],to:[2.05,0],levels:lensLevels}});
fills.push({pts:wedge,solid:'#ffffff'});

const thinLines = [fan01].concat(fanLines.slice(0,33),[fan35,noseArc,noseContour,shoulderContour,oblique2,obliqueOuter,obliqueInner,pocketA,pocketB,pocketC,pocketD,pocketE,pocketF,ridgeA,ridgeB,ridgeC,ridgeD,ridgeE,knotA,knotB,coreA,coreB,coreC,coreE,crackA,crackB,burstD,burstC,burstB,burstA,burstOuter],wakeCorner,wakeVortices,wakeStripes,wakeRear,burstInner);
const heavyLines = [
  {pts:bowShock,w:5},{pts:stemTop,w:10},{pts:machStem,w:9},{pts:wallFoot,w:5},{pts:reflectedShock,w:6},{pts:cornerKnot,w:11},{pts:apexKnot,w:24},{pts:vortexKnot,w:9},
  {pts:curvedShock.slice(1),w:5},{pts:curvedShock.slice(0,2),w:2},{pts:wakeShock,w:6},{pts:lensTop,w:4},{pts:innerStem,w:3.5},
  {pts:thinShockA,w:4},{pts:thinShockB,w:2},{pts:thinShockC,w:2},{pts:upperStem,w:4},{pts:slipLower,w:5},{pts:slipMid,w:3},{pts:fan34,w:2.5}
].concat(filaments.map(pts=>({pts,w:3.5})));

const lineSeries = (pts,w,sm)=>({type:'line',data:pts,symbol:'none',silent:true,animation:false,clip:true,z:4,smooth:sm,
  lineStyle:{color:'#000',width:w,join:'round',cap:w>=9?'butt':'round'},xAxisIndex:0,yAxisIndex:0});

const series = [
  {type:'custom',xAxisIndex:0,yAxisIndex:0,coordinateSystem:'cartesian2d',clip:true,silent:true,animation:false,z:2,
   data:fills.map((_,i)=>[i]),encode:{x:0},
   renderItem(p,api){
     const f=fills[p.dataIndex];
     let fill=f.solid||null;
     if(f.level!==undefined) fill=levelColor(f.level);
     if(f.ramp){
       const a=api.coord(f.ramp.from),b=api.coord(f.ramp.to),n=f.ramp.levels.length-1;
       fill=new echarts.graphic.LinearGradient(a[0],a[1],b[0],b[1],f.ramp.levels.map((v,i)=>({offset:i/n,color:levelColor(v)})),true);
     }
     return {type:'polygon',shape:{points:f.pts.map(q=>api.coord(q))},style:{fill,stroke:fill.colorStops?null:fill,lineWidth:0.6}};
   }},
  ...thinLines.map(pts=>lineSeries(pts,2.1,0.25)),
  ...heavyLines.map(h=>lineSeries(h.pts,h.w,0.2)),
  {type:'custom',xAxisIndex:0,yAxisIndex:0,coordinateSystem:'cartesian2d',clip:true,silent:true,animation:false,z:4,
   data:islands,encode:{x:0,y:1},
   renderItem(p,api){
     const c=api.coord([api.value(0),api.value(1)]);
     const s=api.size([api.value(2),api.value(3)],[api.value(0),api.value(1)]);
     return {type:'ellipse',shape:{cx:c[0],cy:c[1],rx:s[0],ry:s[1]},style:{fill:null,stroke:'#000',lineWidth:2}};
   }},
  // Legend bar
  {type:'custom',xAxisIndex:2,yAxisIndex:2,coordinateSystem:'cartesian2d',silent:true,animation:false,z:2,
   data:[[0,1,15,0]],encode:{x:[0,2],y:[1,3]},
   renderItem(p,api){
     const a=api.coord([0,1]),b=api.coord([15,0]);
     return {type:'rect',shape:{x:a[0],y:a[1],width:b[0]-a[0],height:b[1]-a[1]},
       style:{stroke:'#777',lineWidth:1,fill:new echarts.graphic.LinearGradient(0,0,1,0,rampStops.map(s=>({offset:s[0],color:s[1]})))}};
   }}
];

const numFont = {fontFamily:'Liberation Serif',color:'#000'};
const option = {
  backgroundColor:'#fff',animation:false,
  grid:[{left:270.5,right:270,top:353,bottom:212,containLabel:false},{left:440,right:449,top:118,height:79,containLabel:false}],
  xAxis:[
    {type:'value',gridIndex:0,position:'bottom',min:frame.xMin,max:frame.xMax,z:10,splitLine:{show:false},
     axisLine:{onZero:false,lineStyle:{color:'#000',width:5}},
     axisTick:{inside:true,length:40,lineStyle:{color:'#000',width:4},customValues:xMajor},
     axisLabel:{...numFont,fontSize:62,margin:18,customValues:xMajor,formatter:v=>String(v)}},
    {type:'value',gridIndex:0,position:'bottom',min:frame.xMin,max:frame.xMax,z:10,splitLine:{show:false},
     axisLine:{show:false,onZero:false},
     axisTick:{inside:true,length:23,lineStyle:{color:'#000',width:2},customValues:xMinor},axisLabel:{show:false}},
    {type:'value',gridIndex:1,position:'bottom',min:0,max:15,interval:1,z:10,splitLine:{show:false},
     axisLine:{show:false,onZero:false},axisTick:{inside:true,length:79,lineStyle:{color:'rgba(0,0,0,0.55)',width:1}},
     axisLabel:{...numFont,fontSize:52,margin:48,interval:0,hideOverlap:false,showMinLabel:true,showMaxLabel:true,formatter:(v)=>legendTicks[Math.round(v)]}}
  ],
  yAxis:[
    {type:'value',gridIndex:0,position:'left',min:frame.yMin,max:frame.yMax,z:10,splitLine:{show:false},
     axisLine:{onZero:false,lineStyle:{color:'#000',width:4.5}},
     axisTick:{inside:true,length:40,lineStyle:{color:'#000',width:4},customValues:yMajor},
     axisLabel:{...numFont,fontSize:62,margin:28,customValues:yMajor,formatter:v=>String(v)}},
    {type:'value',gridIndex:0,position:'left',min:frame.yMin,max:frame.yMax,z:10,splitLine:{show:false},
     axisLine:{show:false,onZero:false},
     axisTick:{inside:true,length:23,lineStyle:{color:'#000',width:2},customValues:yMinor},axisLabel:{show:false}},
    {type:'value',gridIndex:1,min:0,max:1,show:false}
  ],
  series
};
const chart = echarts.init(document.getElementById('c'),null,{renderer:'canvas'});
chart.setOption(option);
</script></body></html>
